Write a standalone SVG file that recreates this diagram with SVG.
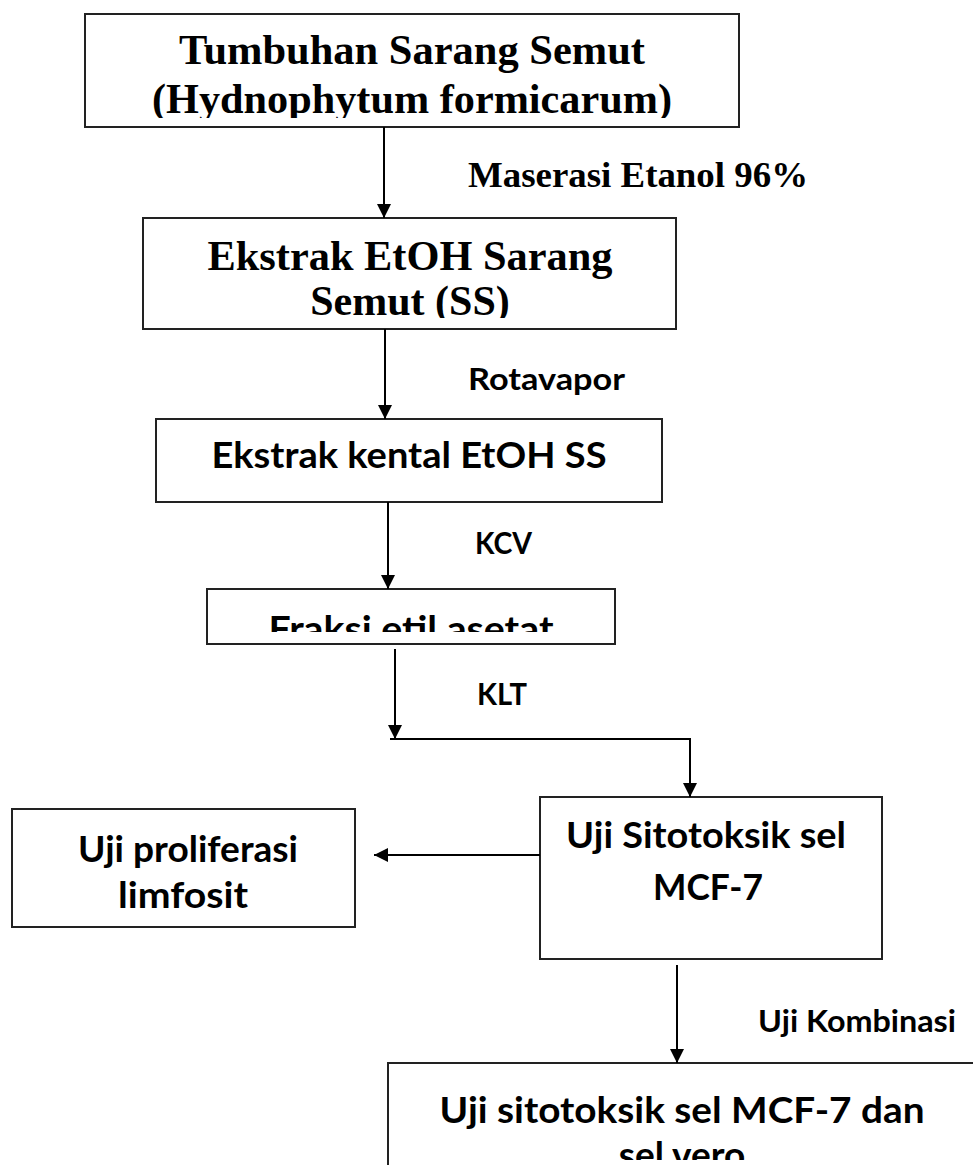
<svg xmlns="http://www.w3.org/2000/svg" width="973" height="1165" viewBox="0 0 973 1165">
<style>
.box{fill:#fff;stroke:#222;stroke-width:2}
.tnr{font-family:"Liberation Serif","Times New Roman",serif;font-weight:bold;fill:#000;text-anchor:middle}
.cal{font-family:Lato,"Liberation Sans",sans-serif;font-weight:bold;fill:#000;text-anchor:middle}
.lbl{font-family:Lato,"Liberation Sans",sans-serif;font-weight:bold;fill:#000;text-anchor:start}
.con{fill:none;stroke:#000;stroke-width:2}
</style>
<defs>
<marker id="ah" markerUnits="userSpaceOnUse" markerWidth="14" markerHeight="14" refX="14" refY="7" orient="auto">
<path d="M0,0 L14,7 L0,14 z" fill="#000"/>
</marker>
<clipPath id="c1"><rect x="85" y="14" width="654" height="104"/></clipPath>
<clipPath id="c2"><rect x="143" y="218" width="533" height="100"/></clipPath>
<clipPath id="c4"><rect x="207" y="589" width="408" height="43"/></clipPath>
<clipPath id="c7"><rect x="388" y="1063" width="600" height="97"/></clipPath>
</defs>
<rect width="973" height="1165" fill="#fff"/>
<g id="n1">
<rect class="box" x="85" y="14" width="654" height="113"/>
<g clip-path="url(#c1)">
<text class="tnr" x="412" y="64" font-size="42" textLength="466" lengthAdjust="spacingAndGlyphs">Tumbuhan Sarang Semut</text>
<text class="tnr" x="412" y="113" font-size="42" textLength="520" lengthAdjust="spacingAndGlyphs">(Hydnophytum formicarum)</text>
</g>
</g>
<g id="n2">
<rect class="box" x="143" y="218" width="533" height="111"/>
<g clip-path="url(#c2)">
<text class="tnr" x="410" y="270" font-size="42" textLength="405" lengthAdjust="spacingAndGlyphs">Ekstrak EtOH Sarang</text>
<text class="tnr" x="410" y="315" font-size="42">Semut (SS)</text>
</g>
</g>
<g id="n3">
<rect class="box" x="156" y="419" width="506" height="83"/>
<text class="cal" x="409" y="468" font-size="37" textLength="395" lengthAdjust="spacingAndGlyphs">Ekstrak kental EtOH SS</text>
</g>
<g id="n4">
<rect class="box" x="207" y="589" width="408" height="55"/>
<g clip-path="url(#c4)">
<text class="cal" x="411" y="642" font-size="37" textLength="285" lengthAdjust="spacingAndGlyphs">Fraksi etil asetat</text>
</g>
</g>
<g id="n5">
<rect class="box" x="540" y="797" width="342" height="162"/>
<text class="cal" x="706" y="848" font-size="36" textLength="280" lengthAdjust="spacingAndGlyphs">Uji Sitotoksik sel</text>
<text class="cal" x="708" y="900" font-size="36" textLength="110" lengthAdjust="spacingAndGlyphs">MCF-7</text>
</g>
<g id="n6">
<rect class="box" x="12" y="809" width="343" height="118"/>
<text class="cal" x="188" y="862" font-size="36" textLength="220" lengthAdjust="spacingAndGlyphs">Uji proliferasi</text>
<text class="cal" x="183" y="908" font-size="36" textLength="130" lengthAdjust="spacingAndGlyphs">limfosit</text>
</g>
<g id="n7">
<rect class="box" x="388" y="1063" width="620" height="140"/>
<g clip-path="url(#c7)">
<text class="cal" x="682" y="1123" font-size="37" textLength="485" lengthAdjust="spacingAndGlyphs">Uji sitotoksik sel MCF-7 dan</text>
<text class="cal" x="682" y="1168" font-size="37">sel vero</text>
</g>
</g>
<g id="connectors">
<line class="con" x1="384" y1="127" x2="384" y2="218" marker-end="url(#ah)"/>
<line class="con" x1="385" y1="329" x2="385" y2="419" marker-end="url(#ah)"/>
<line class="con" x1="388" y1="502" x2="388" y2="589" marker-end="url(#ah)"/>
<line class="con" x1="395" y1="649" x2="395" y2="739" marker-end="url(#ah)"/>
<polyline class="con" points="390,739 690,739 690,797" marker-end="url(#ah)"/>
<line class="con" x1="540" y1="855" x2="374" y2="855" marker-end="url(#ah)"/>
<line class="con" x1="677" y1="965" x2="677" y2="1063" marker-end="url(#ah)"/>
<text class="tnr" x="638" y="187" font-size="36" textLength="340" lengthAdjust="spacingAndGlyphs">Maserasi Etanol 96%</text>
<text class="lbl" x="468" y="390" font-size="31" textLength="157" lengthAdjust="spacingAndGlyphs">Rotavapor</text>
<text class="lbl" x="475" y="554" font-size="31" textLength="57" lengthAdjust="spacingAndGlyphs">KCV</text>
<text class="lbl" x="477" y="705" font-size="31" textLength="50" lengthAdjust="spacingAndGlyphs">KLT</text>
<text class="lbl" x="758" y="1032" font-size="31" textLength="198" lengthAdjust="spacingAndGlyphs">Uji Kombinasi</text>
</g>
</svg>
